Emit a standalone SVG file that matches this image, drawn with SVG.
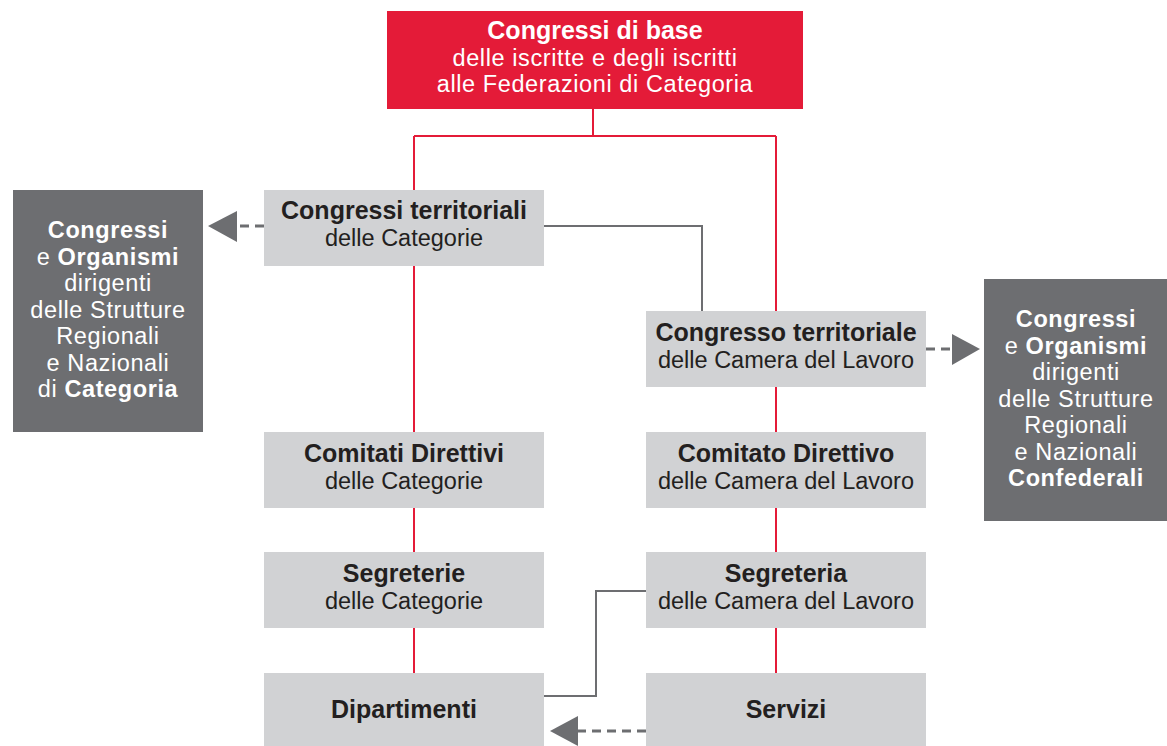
<svg xmlns="http://www.w3.org/2000/svg" width="1167" height="746" viewBox="0 0 1167 746">
<defs>
<style>
.red{fill:#E41B38}
.lg{fill:#D1D2D4}
.dk{fill:#6D6E71}
text{font-family:"Liberation Sans",Arial,sans-serif;font-size:23.5px;text-anchor:middle}
.b{font-weight:bold;font-size:25px}
.db{font-weight:bold}
.ls{letter-spacing:0.6px}
.w{fill:#FFFFFF}
.t{fill:#231F20}
.rl{stroke:#E41B38;stroke-width:2;fill:none}
.gl{stroke:#6D6E71;stroke-width:2;fill:none}
.dl{stroke:#6D6E71;stroke-width:3;fill:none;stroke-dasharray:9 6}
.ah{fill:#6D6E71}
</style>
</defs>
<rect width="1167" height="746" fill="#FFFFFF"/>
<g id="connectors">
<path class="rl" d="M593 109V136M414 136H776M414 136V673M776 136V673"/>
<path class="gl" d="M544 226H702V311"/>
<path class="gl" d="M544 696H596V591H646"/>
<path class="dl" d="M264 226H236"/>
<polygon class="ah" points="208,226 237,211 237,242"/>
<path class="dl" d="M926 349H952"/>
<polygon class="ah" points="980,349 952,334 952,365"/>
<path class="dl" d="M646 731H577"/>
<polygon class="ah" points="550,731 578,716 578,746"/>
</g>
<g id="n-base">
<rect class="red" x="387" y="11" width="416" height="98"/>
<text class="w" x="595" y="38.5"><tspan class="b">Congressi di base</tspan><tspan x="595" y="65.5" class="ls">delle iscritte e degli iscritti</tspan><tspan x="595" y="92" class="ls">alle Federazioni di Categoria</tspan></text>
</g>
<g id="n-cat-org">
<rect class="dk" x="13" y="190" width="190" height="242"/>
<text class="w ls" x="108" y="238"><tspan class="db">Congressi</tspan><tspan x="108" y="264.5">e <tspan class="db">Organismi</tspan></tspan><tspan x="108" y="291">dirigenti</tspan><tspan x="108" y="317.5">delle Strutture</tspan><tspan x="108" y="344">Regionali</tspan><tspan x="108" y="370.5">e Nazionali</tspan><tspan x="108" y="397">di <tspan class="db">Categoria</tspan></tspan></text>
</g>
<g id="n-conf-org">
<rect class="dk" x="984" y="279" width="183" height="242"/>
<text class="w ls" x="1076" y="327"><tspan class="db">Congressi</tspan><tspan x="1076" y="353.5">e <tspan class="db">Organismi</tspan></tspan><tspan x="1076" y="380">dirigenti</tspan><tspan x="1076" y="406.5">delle Strutture</tspan><tspan x="1076" y="433">Regionali</tspan><tspan x="1076" y="459.5">e Nazionali</tspan><tspan x="1076" y="486" class="db">Confederali</tspan></text>
</g>
<g id="n-cong-terr-cat">
<rect class="lg" x="264" y="190" width="280" height="76"/>
<text class="t" x="404" y="219"><tspan class="b">Congressi territoriali</tspan><tspan x="404" y="246">delle Categorie</tspan></text>
</g>
<g id="n-cong-terr-cdl">
<rect class="lg" x="646" y="311" width="280" height="76"/>
<text class="t" x="786" y="341"><tspan class="b">Congresso territoriale</tspan><tspan x="786" y="368">delle Camera del Lavoro</tspan></text>
</g>
<g id="n-com-cat">
<rect class="lg" x="264" y="432" width="280" height="76"/>
<text class="t" x="404" y="462"><tspan class="b">Comitati Direttivi</tspan><tspan x="404" y="489">delle Categorie</tspan></text>
</g>
<g id="n-com-cdl">
<rect class="lg" x="646" y="432" width="280" height="76"/>
<text class="t" x="786" y="462"><tspan class="b">Comitato Direttivo</tspan><tspan x="786" y="489">delle Camera del Lavoro</tspan></text>
</g>
<g id="n-seg-cat">
<rect class="lg" x="264" y="552" width="280" height="76"/>
<text class="t" x="404" y="582"><tspan class="b">Segreterie</tspan><tspan x="404" y="609">delle Categorie</tspan></text>
</g>
<g id="n-seg-cdl">
<rect class="lg" x="646" y="552" width="280" height="76"/>
<text class="t" x="786" y="582"><tspan class="b">Segreteria</tspan><tspan x="786" y="609">delle Camera del Lavoro</tspan></text>
</g>
<g id="n-dip">
<rect class="lg" x="264" y="673" width="280" height="76"/>
<text class="t b" x="404" y="718">Dipartimenti</text>
</g>
<g id="n-serv">
<rect class="lg" x="646" y="673" width="280" height="76"/>
<text class="t b" x="786" y="718">Servizi</text>
</g>
</svg>
